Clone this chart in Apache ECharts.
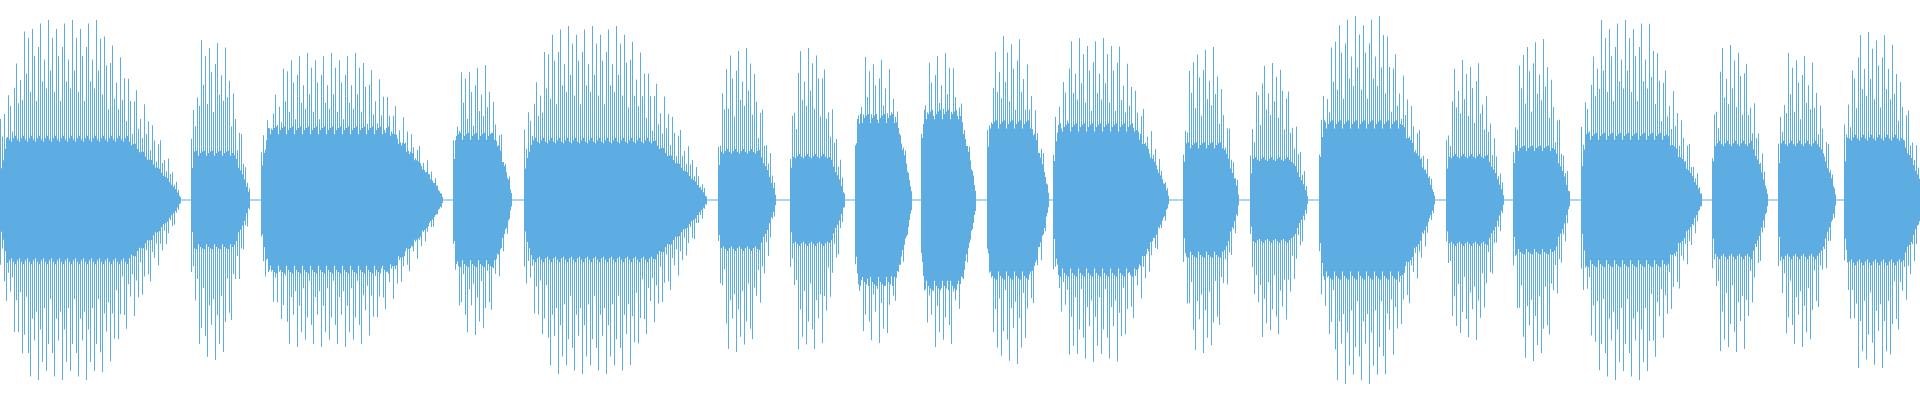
<!DOCTYPE html>
<html>
<head>
<meta charset="utf-8">
<script src="https://cdn.jsdelivr.net/npm/echarts@6/dist/echarts.min.js"></script>
<style>html,body{margin:0;padding:0;background:#fff}#chart{width:1920px;height:400px}</style>
</head>
<body>
<div id="chart"></div>
<script>
// waveform bursts (pixel-ish units, centre = 0)
var segStart = [0, 191, 261, 453, 524, 718, 790, 855, 921, 987, 1053, 1183, 1250, 1319, 1446, 1513, 1581, 1712, 1778, 1844];
var segEnd   = [181, 250, 443, 512, 707, 776, 845, 912, 976, 1049, 1169, 1239, 1308, 1435, 1504, 1570, 1702, 1768, 1836, 1925];
var segPeak  = [180, 160, 147, 135, 174, 152, 152, 143, 147, 164, 162, 153, 137, 184, 140, 161, 180, 155, 147, 168];
var segCore  = [63, 47, 70, 64, 61, 50, 45, 82, 86, 76, 73, 55, 42, 76, 45, 52, 64, 58, 58, 64];
// repeating spike height pattern (beats between tones)
var spikeMix = [1, 0.72, 0.9, 0.6, 0.95, 0.8, 0.55, 0.85, 0.98, 0.66, 0.78, 0.62];
var coreMix  = [1, 0.96, 1.03, 0.93, 1.05, 0.98, 0.94, 1.02];

function envelope(x, s, e, rise, fall) {
  var t = (x - s) / (e - s);
  var a = t < rise ? 0.45 + 0.55 * t / rise : 1;
  if (t > 1 - fall) a *= Math.max(0.03, Math.pow((1 - t) / fall, 0.8));
  return a;
}

var data = [];
var k = 0, seg = 0;
for (var x = 0; x < 1920; x++) {
  while (seg < segStart.length && x >= segEnd[seg]) seg++;
  if (seg >= segStart.length || x < segStart[seg]) {
    data.push([x, -0.6, 0.6]);
    continue;
  }
  var envP = envelope(x, segStart[seg], segEnd[seg], 0.15, 0.45);
  var envC = envelope(x, segStart[seg], segEnd[seg], 0.04, 0.3);
  var core = Math.max(2, segCore[seg] * envC * coreMix[x % coreMix.length]);
  var hi = core, lo = core;
  if ((x - segStart[seg]) % 2 === 0) {
    hi = Math.max(core, segPeak[seg] * envP * spikeMix[k % spikeMix.length]);
    lo = Math.max(core, segPeak[seg] * envP * spikeMix[(k + 5) % spikeMix.length]);
    k++;
  }
  data.push([x, -lo, hi]);
}

var chart = echarts.init(document.getElementById('chart'));
chart.setOption({
  animation: false,
  grid: {left: 0, right: 0, top: 0, bottom: 0},
  xAxis: {type: 'value', min: 0, max: 1920, show: false},
  yAxis: {type: 'value', min: -200, max: 200, show: false},
  series: [{
    type: 'custom',
    silent: true,
    data: data,
    renderItem: function (params, api) {
      var p0 = api.coord([api.value(0), api.value(2)]);
      var p1 = api.coord([api.value(0) + 1, api.value(1)]);
      return {
        type: 'rect',
        shape: {x: p0[0], y: p0[1], width: p1[0] - p0[0], height: p1[1] - p0[1]},
        style: {fill: '#5dade2'}
      };
    }
  }]
});
</script>
</body>
</html>
